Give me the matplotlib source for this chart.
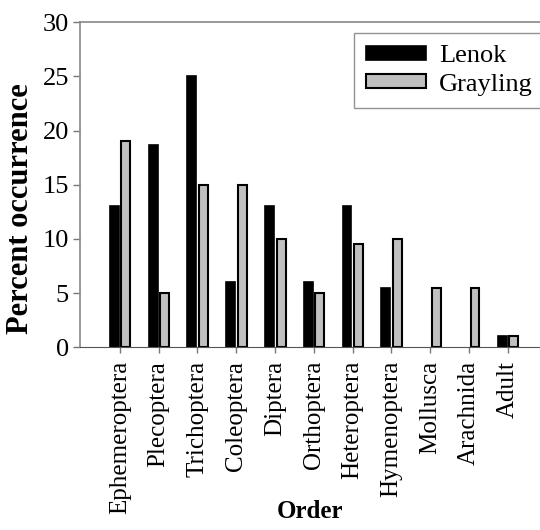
import numpy as np
import matplotlib.pyplot as plt

orders = ['Ephemeroptera', 'Plecoptera', 'Trichoptera', 'Coleoptera', 'Diptera',
          'Orthoptera', 'Heteroptera', 'Hymenoptera', 'Mollusca', 'Arachnida', 'Adult']
lenok = [13, 18.7, 25, 6, 13, 6, 13, 5.5, 0, 0, 1]
grayling = [19, 5, 15, 15, 10, 5, 9.5, 10, 5.5, 5.5, 1]

plt.rcParams['font.family'] = ['Liberation Serif', 'DejaVu Serif']

fig = plt.figure(figsize=(5.4, 5.3), dpi=100)
ax = fig.add_axes([0.148, 0.345, 0.852, 0.613])

x = np.arange(len(orders))
w = 0.23
# no outline on empty bars
lw_lenok = [1.2 if v > 0 else 0 for v in lenok]
ax.bar(x - 0.145, lenok, w, color='black', edgecolor='black', linewidth=lw_lenok, label='Lenok')
ax.bar(x + 0.155, grayling, w, color='#c0c0c0', edgecolor='black', linewidth=1.5, label='Grayling')

ax.set_xlim(-1.03, 10.83)
ax.set_ylim(0, 30)
ax.set_yticks([0, 5, 10, 15, 20, 25, 30])
ax.set_xticks(x)
ax.set_xticklabels(orders, rotation=90, fontsize=18)
ax.tick_params(axis='y', labelsize=19, color='#777777', length=5, width=1, pad=3)
ax.tick_params(axis='x', color='#777777', length=4, width=1, pad=6)

ax.spines['right'].set_visible(False)
for s in ['left', 'top']:
    ax.spines[s].set_color('#888888')
    ax.spines[s].set_linewidth(1.2)
ax.spines['bottom'].set_color('#555555')

ax.set_ylabel('Percent occurrence', fontsize=22, fontweight='bold')
ax.yaxis.set_label_coords(-0.098, 0.425)
ax.set_xlabel('Order', fontsize=18, fontweight='bold')
ax.xaxis.set_label_coords(0.5, -0.47)

leg = ax.legend(loc='upper left', bbox_to_anchor=(0.596, 0.966), fontsize=19,
                handlelength=2.27, handleheight=0.45, fancybox=False, borderpad=0.45,
                labelspacing=0.25, handletextpad=0.5, borderaxespad=0)
leg.get_frame().set_edgecolor('#777777')
leg.get_frame().set_linewidth(1)

plt.savefig('out.png', dpi=100)
